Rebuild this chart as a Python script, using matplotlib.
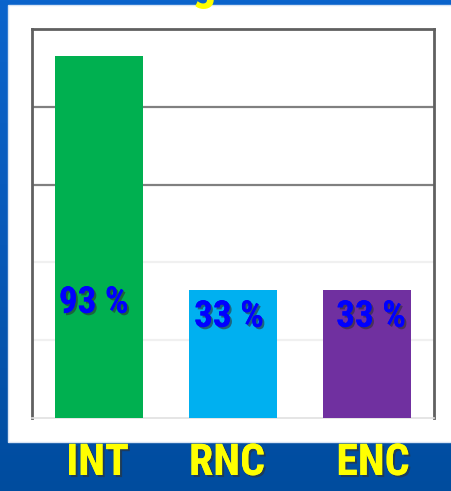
import numpy as np
import matplotlib
matplotlib.use("Agg")
from matplotlib import pyplot as plt
from matplotlib import font_manager
from matplotlib.font_manager import FontProperties
from matplotlib.textpath import TextPath
from matplotlib.patches import Rectangle
from matplotlib.colors import LinearSegmentedColormap
import matplotlib.patheffects as pe

categories = ["INT", "RNC", "ENC"]
values = [93, 33, 33]
labels = ["93 %", "33 %", "33 %"]
colors = ["#00B050", "#00B0F0", "#7030A0"]


def pick_font():
    # prefer a narrow bold sans face (Arial Narrow look)
    best = None
    for f in font_manager.fontManager.ttflist:
        w = f.weight if isinstance(f.weight, int) else font_manager.weight_dict.get(f.weight, 400)
        narrow = "Narrow" in f.name or "Condensed" in f.name or \
            f.stretch in ("condensed", "semi-condensed", "extra-condensed") or \
            "Condensed" in f.fname or "Narrow" in f.fname
        if w >= 600 and narrow and f.style == "normal":
            rank = 0 if ("Liberation" in f.name or "Arial" in f.name) else (1 if "Roboto" in f.name else 2)
            if best is None or rank < best[0]:
                best = (rank, f.fname)
    if best:
        return best[1]
    return font_manager.findfont(FontProperties(family="Liberation Sans", weight="bold"))


FONT_FILE = pick_font()


def fit_size(text, width_px, cap_px, cap_ref):
    # size (pt) leaning on the cap-height fit, tempered by the width fit
    prop = FontProperties(fname=FONT_FILE)
    ext = TextPath((0, 0), text, size=100, prop=prop).get_extents()
    capx = TextPath((0, 0), cap_ref, size=100, prop=prop).get_extents()
    s_w = width_px / ext.width * 100
    s_h = cap_px / capx.height * 100
    return (s_w ** 0.3) * (s_h ** 0.7) * 0.72


lab_size = fit_size("93 %", 67, 27, "93")
cat_size = fit_size("INT", 55, 32, "INT")

W, H = 452, 491
fig = plt.figure(figsize=(W / 100, H / 100), dpi=100)

# blue slide background (vertical gradient)
bg = fig.add_axes([0, 0, 1, 1], zorder=-10)
grad = np.linspace(0, 1, 256).reshape(-1, 1)
cmap = LinearSegmentedColormap.from_list("slide", ["#0B64CC", "#0758B8", "#004C9E"])
bg.imshow(grad, aspect="auto", cmap=cmap, extent=[0, 1, 0, 1], origin="upper")
bg.set_xlim(0, 1)
bg.set_ylim(0, 1)
bg.axis("off")

# white panel
bg.add_patch(Rectangle((8 / W, (H - 442) / H), 1, (442 - 5) / H,
                       facecolor="white", edgecolor="#d8e4f4", lw=1, zorder=2))

ax = fig.add_axes([32 / W, (H - 418) / H, 402 / W, 389 / H], zorder=1)
ax.set_facecolor("white")
x = np.arange(len(categories))
ax.bar(x, values, width=0.66, color=colors, zorder=3)
ax.set_xlim(-0.5, len(categories) - 0.5)
ax.set_ylim(0, 100)

# gridlines: upper ones darker, lower ones very faint
for yv, col in [(80, "#808080"), (60, "#808080"), (40, "#f0f0f0"), (20, "#f0f0f0")]:
    ax.axhline(yv, color=col, lw=1.6, zorder=1)

for side in ["left", "right", "top"]:
    ax.spines[side].set_color("#606060")
    ax.spines[side].set_linewidth(2)
ax.spines["bottom"].set_color("#e0e0e0")
ax.spines["bottom"].set_linewidth(1.2)
ax.set_xticks([])
ax.set_yticks([])

shadow = [pe.withSimplePatchShadow(offset=(1.5, -1.5), shadow_rgbFace="#303030", alpha=0.6), pe.Normal()]

label_dx = [-0.04, -0.03, 0.03]
label_y = [29.6, 26.0, 26.0]
for i, txt in enumerate(labels):
    ax.text(x[i] + label_dx[i], label_y[i], txt, ha="center", va="center",
            fontproperties=FontProperties(fname=FONT_FILE, size=lab_size),
            color="#0000FF", path_effects=shadow, zorder=5)

cat_x = [97.5, 227, 373]
for cx, name in zip(cat_x, categories):
    fig.text(cx / W, (H - 463) / H, name, ha="center", va="center",
             fontproperties=FontProperties(fname=FONT_FILE, size=cat_size),
             color="#FFFF00", path_effects=shadow)

# bottom of the cut-off title
fig.text(204 / W, 1 + 1 / H, "g", ha="center", va="baseline",
         fontproperties=FontProperties(fname=FONT_FILE, size=cat_size * 1.1), color="#FFFF00")

fig.savefig("out.png", dpi=100)
